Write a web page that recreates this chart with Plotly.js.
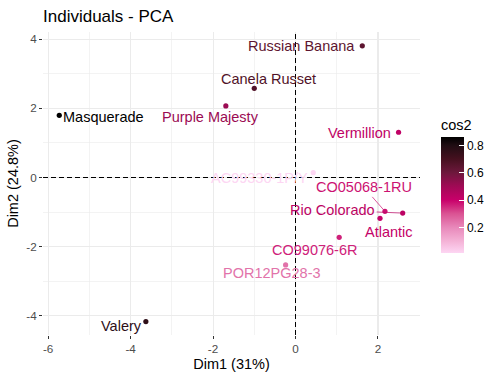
<!DOCTYPE html>
<html>
<head>
<meta charset="utf-8">
<script src="https://cdn.plot.ly/plotly-3.0.1.min.js"></script>
<style>html,body{margin:0;padding:0;background:#fff;}#chart{width:503px;height:380px;}</style>
</head>
<body>
<div id="chart"></div>
<script>
// ---- data ----
const names = ["Masquerade","Valery","Canela Russet","Purple Majesty","Russian Banana","Vermillion",
               "AC99330-1P/Y","CO05068-1RU","Rio Colorado","Atlantic","CO99076-6R","POR12PG28-3"];
const dim1 = [-5.73,-3.63,-1.00,-1.69,1.62,2.50,0.43,2.17,2.60,2.05,1.06,-0.24];
const dim2 = [1.80,-4.17,2.58,2.07,3.81,1.31,0.14,-0.98,-1.03,-1.18,-1.73,-2.53];
const cos2 = [0.859,0.76,0.67,0.51,0.64,0.42,0.013,0.38,0.43,0.41,0.36,0.24];
const xTickVals = [-6,-4,-2,0,2];
const xTickText = ["-6","-4","-2","0","2"];
const yTickVals = [-4,-2,0,2,4];
const yTickText = ["-4","-2","0","2","4"];
const cbTickVals = [0.2,0.4,0.6,0.8];
const cbTickText = ["0.2","0.4","0.6","0.8"];

// ---- label placement (screen px offsets from point; dy down positive) ----
const labelDx = [44,-24,14,-15,-61,-39,-54,-21,-70,9,-25,-14];
const labelDy = [2,4,-9,11,0,1,5,-24,-3,14,13,8];
const labelSeg = [false,false,false,false,false,false,false,true,true,false,false,false];

// ---- colour scale ----
const cmin = Math.min(...cos2), cmax = Math.max(...cos2);
const stopVals = [cmin,0.1,0.2,0.3,0.4,0.5,0.6,0.7,0.8,cmax];
const stopCols = ["#FDD6F3","#F4B2D6","#E888BA","#DA5393","#C8006A","#A00A55","#6D183C","#45101F","#1F0D13","#000000"];
const colorscale = stopVals.map((v,i)=>[(v-cmin)/(cmax-cmin), stopCols[i]]);
function hex2rgb(h){return [parseInt(h.slice(1,3),16),parseInt(h.slice(3,5),16),parseInt(h.slice(5,7),16)];}
function colorAt(v){
  const t=(v-cmin)/(cmax-cmin);
  for(let i=0;i<colorscale.length-1;i++){
    const [t0,c0]=colorscale[i],[t1,c1]=colorscale[i+1];
    if(t>=t0 && t<=t1){
      const f=(t1===t0)?0:(t-t0)/(t1-t0);
      const a=hex2rgb(c0),b=hex2rgb(c1);
      return 'rgb('+a.map((x,k)=>Math.round(x+(b[k]-x)*f)).join(',')+')';
    }
  }
  return colorscale[colorscale.length-1][1];
}

const FONT = 'Liberation Sans, Arial, sans-serif';
const trace = {
  type:'scatter', mode:'markers', x:dim1, y:dim2, text:names,
  marker:{size:5.2, color:cos2, colorscale:colorscale, cmin:cmin, cmax:cmax, showscale:true,
    colorbar:{
      title:{text:'cos2', side:'top', font:{family:FONT, size:14.5, color:'#000'}},
      thickness:23, thicknessmode:'pixels', len:137, lenmode:'pixels',
      x:1.0557, xanchor:'left', xpad:0, y:0.496, yanchor:'middle', ypad:0,
      outlinewidth:0, tickvals:cbTickVals, ticktext:cbTickText,
      ticks:'inside', ticklen:5, tickcolor:'#fff', tickwidth:1,
      tickfont:{family:FONT, size:12, color:'#000'}
    }},
  hoverinfo:'text', showlegend:false
};

const annotations = names.map((n,i)=>{
  const col = colorAt(cos2[i]);
  const base = {x:dim1[i], y:dim2[i], xref:'x', yref:'y', text:n,
    font:{family:FONT, size:14.5, color:col}};
  if(labelSeg[i]){
    return Object.assign(base,{showarrow:true, arrowhead:0, arrowwidth:0.7, arrowcolor:col,
      ax:labelDx[i], ay:labelDy[i], standoff:2, startstandoff:0});
  }
  return Object.assign(base,{showarrow:false, xanchor:'center', yanchor:'middle',
    xshift:labelDx[i], yshift:-labelDy[i]});
});

const axFont = {family:FONT, size:11.7, color:'#4D4D4D'};
const layout = {
  width:503, height:380,
  margin:{l:43, r:83, t:32, b:45, pad:0},
  paper_bgcolor:'#fff', plot_bgcolor:'#fff',
  font:{family:FONT},
  title:{text:'Individuals - PCA', font:{family:FONT, size:17, color:'#000'},
    x:43/503, xref:'container', xanchor:'left', y:1-16/380, yref:'container', yanchor:'middle'},
  xaxis:{range:[-6.125,3.02], tickvals:xTickVals, ticktext:xTickText, ticks:'outside', ticklen:3,
    tickcolor:'#333', tickwidth:1, tickfont:axFont, showgrid:true, gridcolor:'#EBEBEB', gridwidth:1.1,
    minor:{dtick:1, tick0:0, showgrid:true, gridcolor:'#EBEBEB', gridwidth:0.6, ticks:''},
    zeroline:false, showline:false, automargin:false,
    title:{text:'Dim1 (31%)', font:{family:FONT, size:14.5, color:'#000'}, standoff:4}},
  yaxis:{range:[-4.557,4.21], tickvals:yTickVals, ticktext:yTickText, ticks:'outside', ticklen:3,
    tickcolor:'#333', tickwidth:1, tickfont:axFont, showgrid:true, gridcolor:'#EBEBEB', gridwidth:1.1,
    minor:{dtick:1, tick0:0, showgrid:true, gridcolor:'#EBEBEB', gridwidth:0.6, ticks:''},
    zeroline:false, showline:false, automargin:false,
    title:{text:'Dim2 (24.8%)', font:{family:FONT, size:14.5, color:'#000'}, standoff:4}},
  shapes:[
    {type:'line', xref:'x', yref:'paper', x0:0, x1:0, y0:0, y1:1, line:{color:'#000000', width:1, dash:'5px,3px'}, layer:'above'},
    {type:'line', xref:'paper', yref:'y', x0:0, x1:1, y0:0, y1:0, line:{color:'#000000', width:1, dash:'5px,3px'}, layer:'above'}
  ],
  annotations:annotations
};

Plotly.newPlot('chart',[trace],layout,{displayModeBar:false, staticPlot:true});
</script>
</body>
</html>
